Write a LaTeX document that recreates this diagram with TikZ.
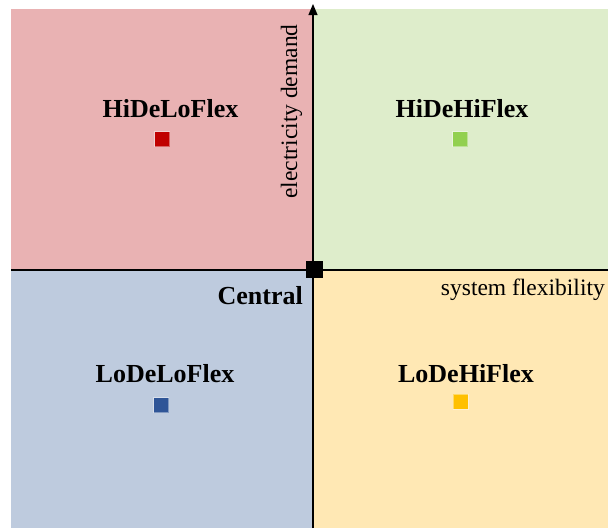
\documentclass[tikz,border=0pt]{standalone}
\usepackage{fontspec}
\setmainfont{Liberation Serif}
\usetikzlibrary{arrows.meta}
\definecolor{qred}{RGB}{233,178,179}
\definecolor{qgreen}{RGB}{222,237,203}
\definecolor{qblue}{RGB}{190,203,222}
\definecolor{qorange}{RGB}{255,232,180}
\definecolor{mred}{HTML}{C00000}
\definecolor{mgreen}{HTML}{92D050}
\definecolor{mblue}{HTML}{2F5597}
\definecolor{morange}{HTML}{FFC000}
\tikzset{
  quad/.style={draw=none, inner sep=0, outer sep=0},
  scen/.style={font=\fontsize{26}{28}\selectfont\bfseries, inner sep=0, anchor=base},
  axlabel/.style={font=\fontsize{23.5}{26}\selectfont, inner sep=0},
  marker/.style={minimum size=15pt, inner sep=0, draw=white, draw opacity=0.4, line width=0.8pt},
  axis/.style={line width=1.2pt, black}
}
\begin{document}
\begin{tikzpicture}[x=1pt, y=-1pt]
  \useasboundingbox (0,0) rectangle (608,528);
  % quadrants
  \fill[qred]    (11,9)   rectangle (313,270);
  \fill[qgreen]  (313,9)  rectangle (608,270);
  \fill[qblue]   (11,270) rectangle (313,528);
  \fill[qorange] (313,270) rectangle (608,528);
  % axes
  \coordinate (xl) at (11,270);
  \coordinate (xr) at (608,270);
  \coordinate (yb) at (313,528);
  \coordinate (yt) at (313,4);
  \draw[axis] (xl) -- (xr);
  \draw[axis, -{Triangle[width=9pt,length=11pt]}] (yb) -- (yt);
  % centre point
  \node[fill=black, minimum size=17pt, inner sep=0] (central) at (314,269) {};
  % scenario labels and markers
  \node[scen] (hdlf) at (170.5,117) {HiDeLoFlex};
  \node[marker, fill=mred] (mhdlf) at (162,139) {};
  \node[scen] (hdhf) at (462,117) {HiDeHiFlex};
  \node[marker, fill=mgreen] (mhdhf) at (460,139) {};
  \node[scen] (ldlf) at (165,382) {LoDeLoFlex};
  \node[marker, fill=mblue] (mldlf) at (161,405) {};
  \node[scen] (ldhf) at (466,382) {LoDeHiFlex};
  \node[marker, fill=morange] (mldhf) at (460.5,401.5) {};
  \node[scen, anchor=base east] (clabel) at (303,304) {Central};
  % axis labels
  \node[axlabel, anchor=base east] (flex) at (605,295) {system flexibility};
  \node[axlabel, anchor=base, rotate=90] (dem) at (297,111.5) {electricity demand};
\end{tikzpicture}
\end{document}
